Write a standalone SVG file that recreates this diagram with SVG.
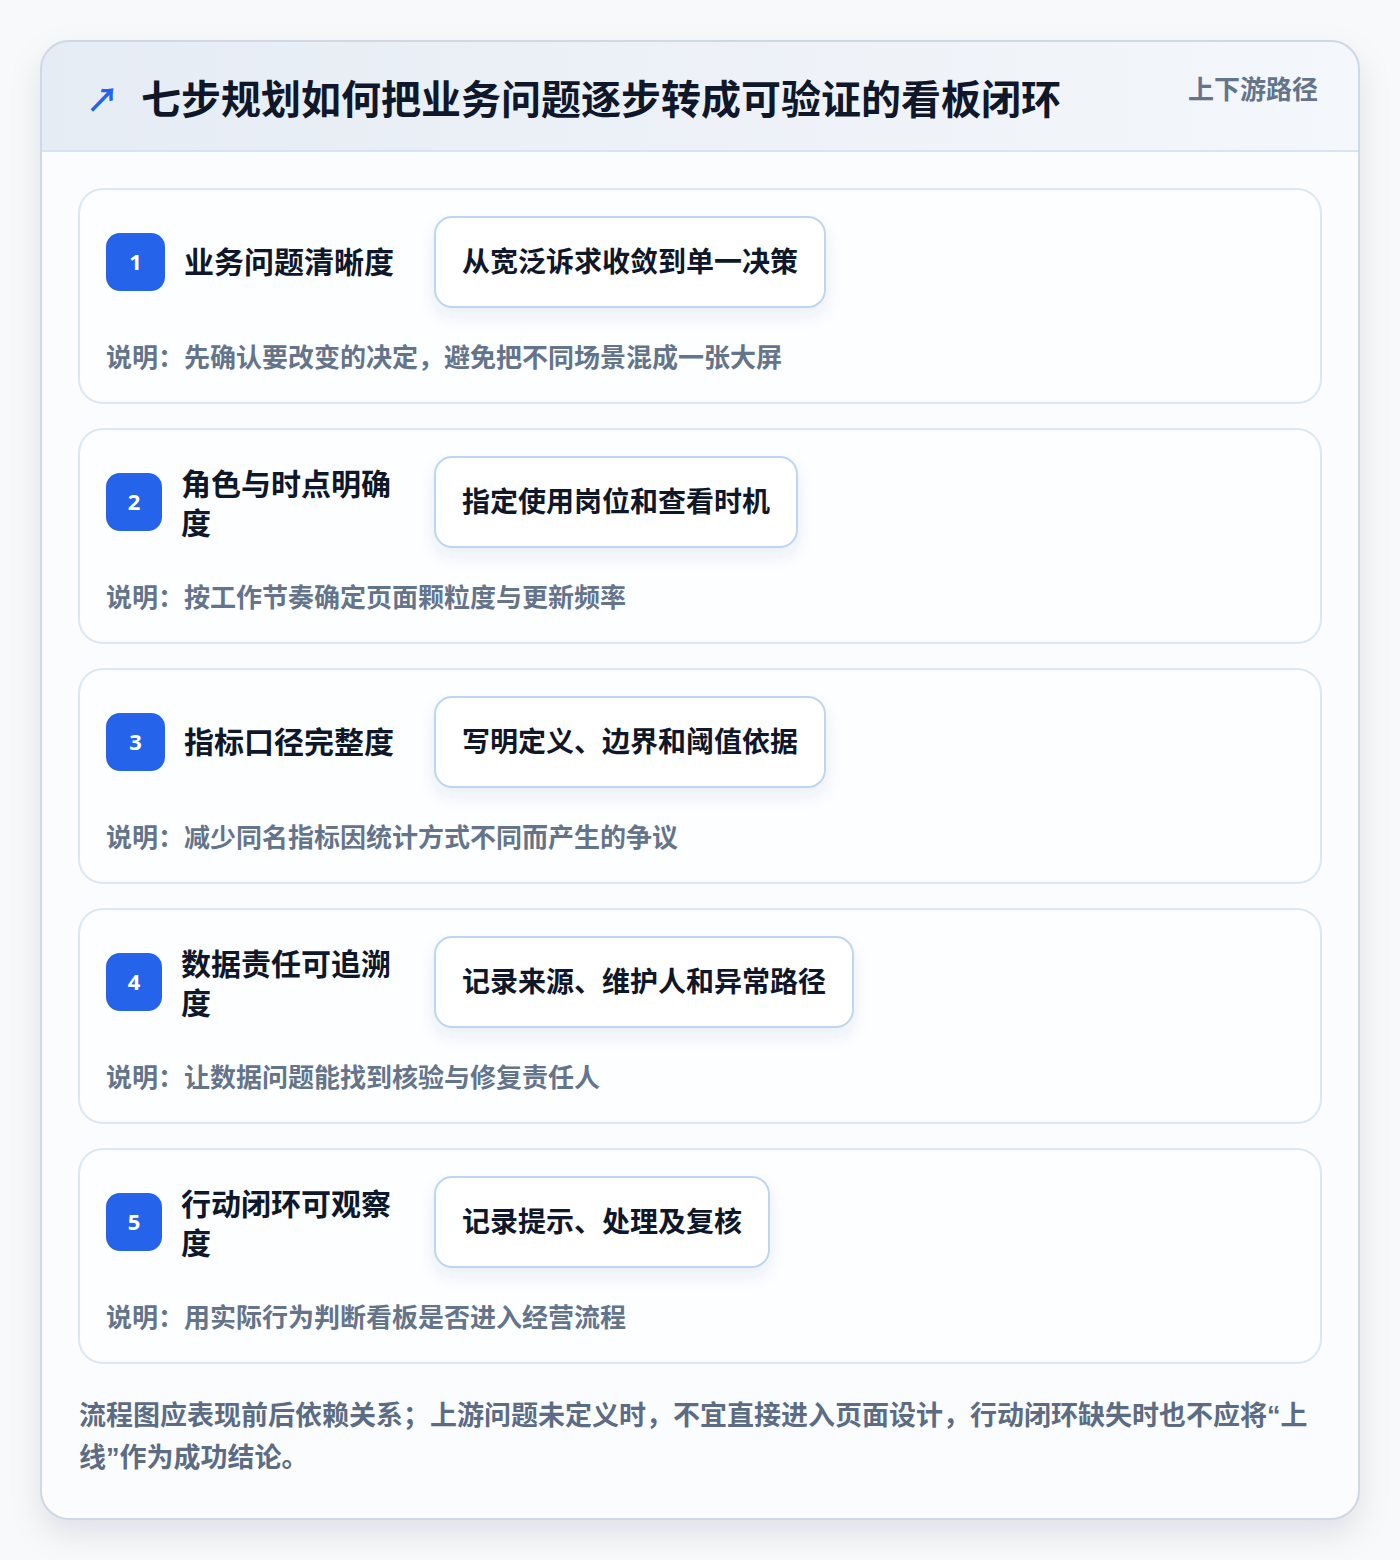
<svg xmlns="http://www.w3.org/2000/svg" width="1400" height="1560" viewBox="0 0 1400 1560">
<defs>
<linearGradient id="hdr" x1="0" y1="0" x2="1" y2="0">
<stop offset="0" stop-color="#e6ecf4"/>
<stop offset="1" stop-color="#f4f7fb"/>
</linearGradient>
<filter id="outerShadow" x="-10%" y="-10%" width="120%" height="120%">
<feDropShadow dx="0" dy="14" stdDeviation="16" flood-color="#0f172a" flood-opacity="0.10"/>
</filter>
<filter id="pillShadow" x="-20%" y="-30%" width="140%" height="180%">
<feDropShadow dx="0" dy="8" stdDeviation="8" flood-color="#1e3a8a" flood-opacity="0.08"/>
</filter>
<clipPath id="outerClip"><rect x="41" y="41" width="1318" height="1478" rx="28"/></clipPath>
<style>
.cjk{font-family:"Noto Sans CJK SC","Noto Sans",sans-serif;font-weight:700}
.title{font-size:40px;fill:#0f172a}
.sub{font-size:26px;fill:#64748b}
.card{fill:#fdfeff;stroke:#dbe7f5;stroke-width:2}
.badge{fill:#2563eb}
.num{font-family:"Noto Sans","Liberation Sans",sans-serif;font-weight:700;font-size:22px;fill:#ffffff}
.label{font-size:30px;fill:#0f172a}
.pill{fill:#ffffff;stroke:#bfd6f3;stroke-width:2}
.pilltext{font-size:28px;fill:#0f172a}
.desc{font-size:26px;fill:#64748b}
.foot{font-size:27px;fill:#5c6c84}
.q{font-family:"Liberation Sans",sans-serif}
</style>
</defs>
<rect x="0" y="0" width="1400" height="1560" fill="#f8f9fb"/>
<g id="panel">
<rect x="41" y="41" width="1318" height="1478" rx="28" fill="#ffffff" filter="url(#outerShadow)"/>
<g clip-path="url(#outerClip)">
<rect x="41" y="41" width="1318" height="1478" fill="#fbfcfe"/>
<rect x="41" y="41" width="1318" height="110" fill="url(#hdr)"/>
<line x1="41" y1="151" x2="1359" y2="151" stroke="#d6e4f5" stroke-width="2"/>
</g>
<rect x="41" y="41" width="1318" height="1478" rx="28" fill="none" stroke="#cfd8e5" stroke-width="2"/>
</g>
<g id="header">
<text class="cjk" x="86" y="112" font-size="33" fill="#2563eb">↗</text>
<text class="cjk title" x="141" y="114">七步规划如何把业务问题逐步转成可验证的看板闭环</text>
<text class="cjk sub" x="1188" y="99">上下游路径</text>
</g>
<g id="step1">
<rect class="card" x="79" y="189" width="1242" height="214" rx="24"/>
<rect class="badge" x="106" y="233" width="59" height="58" rx="14"/>
<text class="num" x="135.5" y="270" text-anchor="middle">1</text>
<text class="cjk label" x="184" y="273">业务问题清晰度</text>
<rect class="pill" x="435" y="217" width="390" height="90" rx="17" filter="url(#pillShadow)"/>
<text class="cjk pilltext" x="462" y="272">从宽泛诉求收敛到单一决策</text>
<text class="cjk desc" x="106" y="367">说明：先确认要改变的决定，避免把不同场景混成一张大屏</text>
</g>
<g id="step2">
<rect class="card" x="79" y="429" width="1242" height="214" rx="24"/>
<rect class="badge" x="106" y="473" width="56" height="58" rx="14"/>
<text class="num" x="134" y="510" text-anchor="middle">2</text>
<text class="cjk label"><tspan x="181" y="495">角色与时点明确</tspan><tspan x="181" y="534">度</tspan></text>
<rect class="pill" x="435" y="457" width="362" height="90" rx="17" filter="url(#pillShadow)"/>
<text class="cjk pilltext" x="462" y="512">指定使用岗位和查看时机</text>
<text class="cjk desc" x="106" y="607">说明：按工作节奏确定页面颗粒度与更新频率</text>
</g>
<g id="step3">
<rect class="card" x="79" y="669" width="1242" height="214" rx="24"/>
<rect class="badge" x="106" y="713" width="59" height="58" rx="14"/>
<text class="num" x="135.5" y="750" text-anchor="middle">3</text>
<text class="cjk label" x="184" y="753">指标口径完整度</text>
<rect class="pill" x="435" y="697" width="390" height="90" rx="17" filter="url(#pillShadow)"/>
<text class="cjk pilltext" x="462" y="752">写明定义、边界和阈值依据</text>
<text class="cjk desc" x="106" y="847">说明：减少同名指标因统计方式不同而产生的争议</text>
</g>
<g id="step4">
<rect class="card" x="79" y="909" width="1242" height="214" rx="24"/>
<rect class="badge" x="106" y="953" width="56" height="58" rx="14"/>
<text class="num" x="134" y="990" text-anchor="middle">4</text>
<text class="cjk label"><tspan x="181" y="975">数据责任可追溯</tspan><tspan x="181" y="1014">度</tspan></text>
<rect class="pill" x="435" y="937" width="418" height="90" rx="17" filter="url(#pillShadow)"/>
<text class="cjk pilltext" x="462" y="992">记录来源、维护人和异常路径</text>
<text class="cjk desc" x="106" y="1087">说明：让数据问题能找到核验与修复责任人</text>
</g>
<g id="step5">
<rect class="card" x="79" y="1149" width="1242" height="214" rx="24"/>
<rect class="badge" x="106" y="1193" width="56" height="58" rx="14"/>
<text class="num" x="134" y="1230" text-anchor="middle">5</text>
<text class="cjk label"><tspan x="181" y="1215">行动闭环可观察</tspan><tspan x="181" y="1254">度</tspan></text>
<rect class="pill" x="435" y="1177" width="334" height="90" rx="17" filter="url(#pillShadow)"/>
<text class="cjk pilltext" x="462" y="1232">记录提示、处理及复核</text>
<text class="cjk desc" x="106" y="1327">说明：用实际行为判断看板是否进入经营流程</text>
</g>
<g id="connectors"></g>
<g id="footnote">
<text class="cjk foot"><tspan x="79" y="1425">流程图应表现前后依赖关系；上游问题未定义时，不宜直接进入页面设计，行动闭环缺失时也不应将<tspan class="q">“</tspan>上</tspan><tspan x="79" y="1467">线<tspan class="q">”</tspan>作为成功结论。</tspan></text>
</g>
</svg>
